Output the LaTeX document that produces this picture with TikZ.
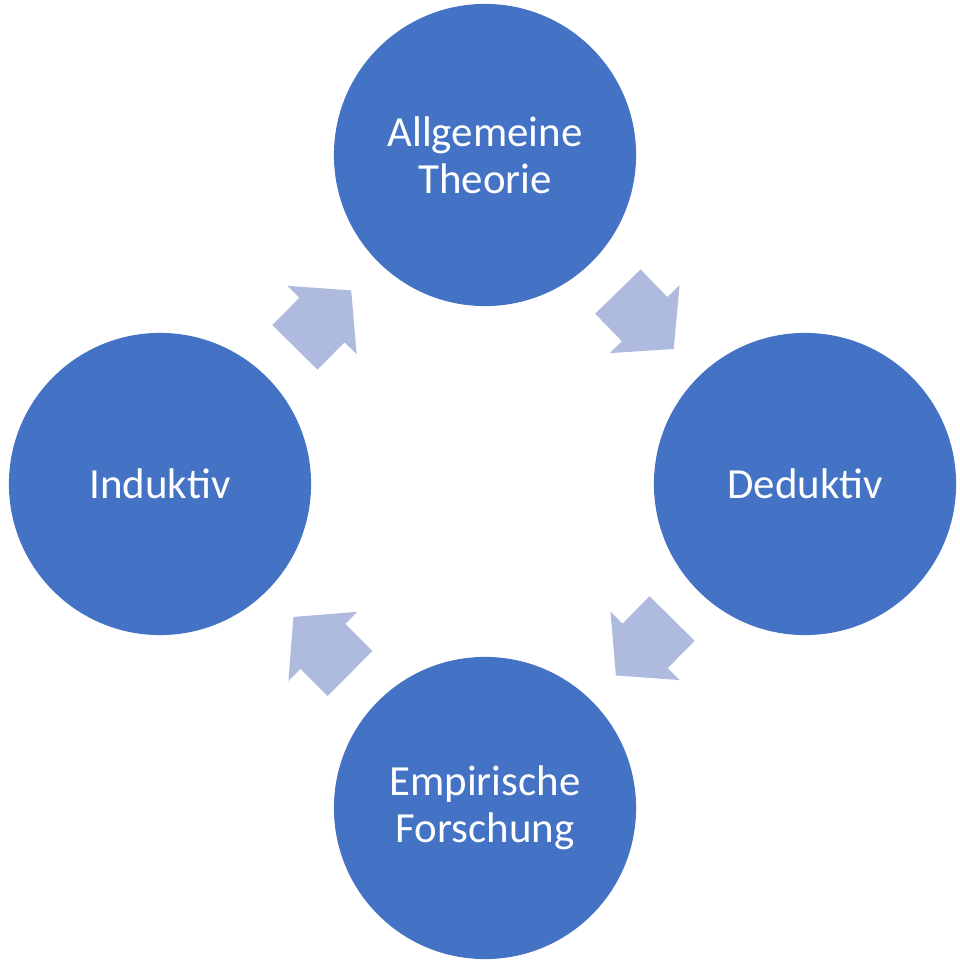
\documentclass[tikz,border=0pt]{standalone}
\usepackage{fontspec}
\setmainfont{Carlito}
\usetikzlibrary{shapes.arrows}
\definecolor{circleblue}{RGB}{68,114,196}
\definecolor{arrowblue}{RGB}{174,186,222}
\begin{document}
\begin{tikzpicture}[x=0.01cm, y=0.01cm]
    \tikzstyle{phase}=[circle,fill=circleblue,minimum size=3.02cm,inner sep=0pt,text=white,align=center,font=\fontsize{12.2}{13.4}\selectfont]
    \tikzstyle{flow}=[single arrow,fill=arrowblue,minimum height=0.8cm,inner xsep=0pt,inner ysep=0.31cm,single arrow head extend=0.17cm,single arrow tip angle=99,allow upside down]

    \useasboundingbox (0,0) rectangle (960,960);

    % Draw the four phases
    \node[phase] (theorie) at (485,805) {Allgemeine\\Theorie};
    \node[phase] (deduktiv) at (805,476) {Deduktiv};
    \node[phase] (empirie) at (485,152) {Empirische\\Forschung};
    \node[phase] (induktiv) at (160,476) {Induktiv};

    % Connect the phases clockwise
    \path (induktiv) -- node[flow,sloped,pos=0.42] {} (theorie);
    \path (theorie) -- node[flow,sloped,pos=0.42] {} (deduktiv);
    \path (deduktiv) -- node[flow,sloped,pos=0.42] {} (empirie);
    \path (empirie) -- node[flow,sloped,pos=0.42] {} (induktiv);
\end{tikzpicture}
\end{document}
